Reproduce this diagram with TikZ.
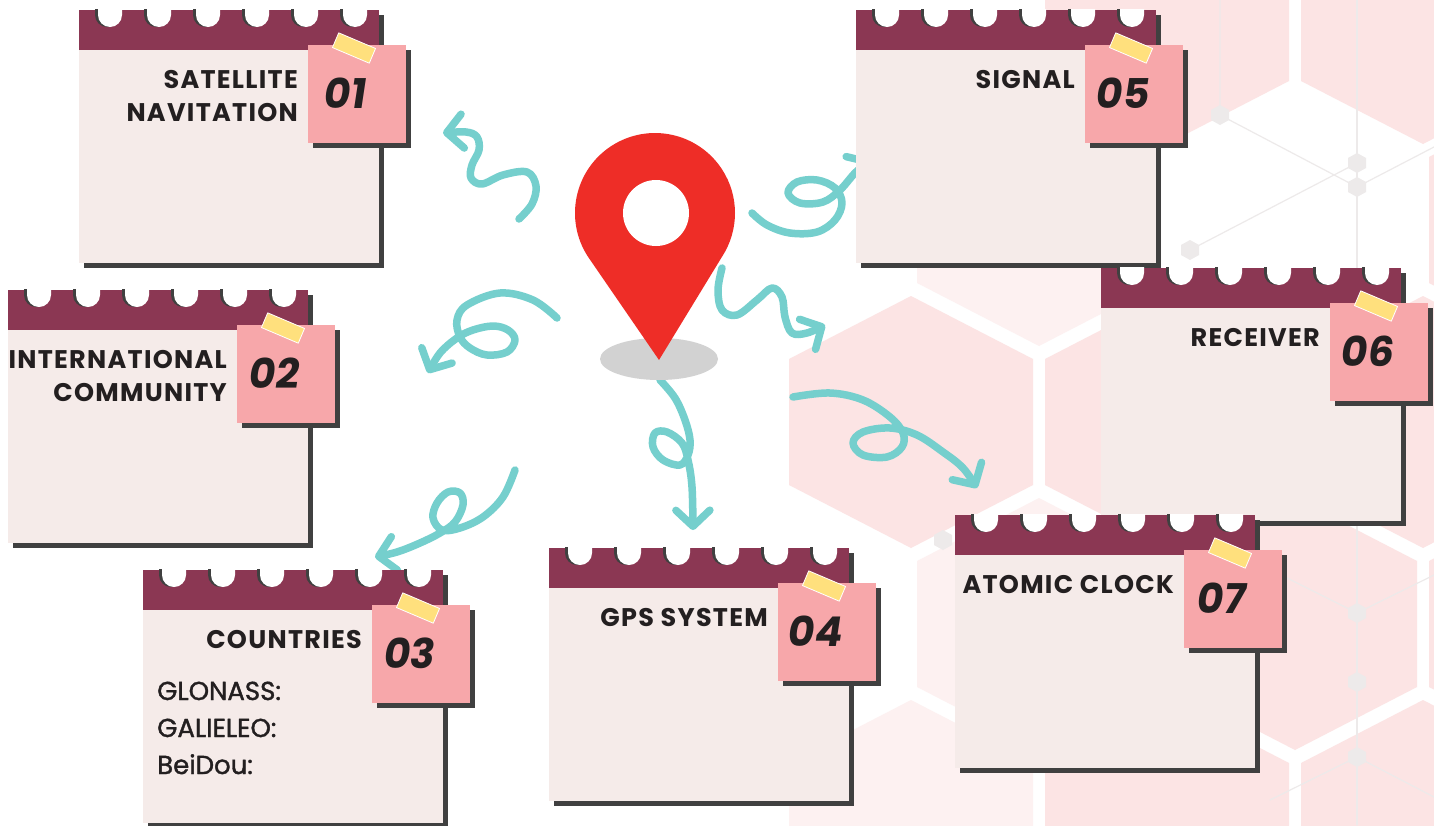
\documentclass[tikz,border=0pt]{standalone}
\usepackage{fontspec}
\usetikzlibrary{arrows.meta}
\newfontfamily\titlefont[LetterSpace=5]{Poppins}
\newfontfamily\numfont[FakeSlant=0.15]{Poppins}
\newfontfamily\listfont[FakeBold=1.4]{Poppins}

\definecolor{binder}{HTML}{8B3753}
\definecolor{paper}{HTML}{F5EBE9}
\definecolor{cardshade}{HTML}{404040}
\definecolor{sticky}{HTML}{F7A7AA}
\definecolor{tapey}{HTML}{FFE07D}
\definecolor{squigteal}{HTML}{75CFCD}
\definecolor{pinred}{HTML}{EE2D27}
\definecolor{pingrey}{HTML}{D2D2D2}
\definecolor{hexpink}{HTML}{FCE4E4}
\definecolor{hexpale}{HTML}{FDF1F1}
\definecolor{netgrey}{HTML}{EDEAEA}
\definecolor{inkdark}{HTML}{231F20}

\tikzset{
  squig/.style={draw=squigteal, line width=7.5pt, line cap=round, line join=round,
    -{Straight Barb[length=16pt,width=34pt,round]}},
  tape/.style={fill=tapey, draw=white, line width=0.8pt, minimum width=40pt, minimum height=16pt, inner sep=0pt},
  numtext/.style={font=\numfont\bfseries\fontsize{41}{41}\selectfont, text=inkdark, inner sep=0pt},
  titletext/.style={font=\titlefont\bfseries\fontsize{25.5}{33}\selectfont, text=inkdark, align=right, inner sep=0pt},
  listtext/.style={font=\listfont\fontsize{26}{26}\selectfont, text=inkdark, inner sep=0pt},
  netline/.style={draw=netgrey, line width=1.2pt},
}

% one note card: #1 top left corner, #2 name, #3 number, #4 title
\newcommand{\notecard}[4]{%
  \begin{scope}[shift={#1}]
    \fill[cardshade] (5,5) rectangle (305,258);
    \fill[paper] (0,0) rectangle (300,253);
    \fill[binder] (0,0) rectangle (300,40);
    % binder holes
    \foreach \hx in {28,77,126,175,224,273}{
      \fill[cardshade] (\hx-12,-1) -- (\hx-12,5) arc[start angle=180,end angle=0,radius=12] -- (\hx+12,-1) -- cycle;
      \fill[white] (\hx-9,-1) -- (\hx-9,5) arc[start angle=180,end angle=0,radius=12] -- (\hx+15,-1) -- cycle;
    }
    % sticky note with tape
    \fill[cardshade] (234,40) rectangle (332,138);
    \fill[sticky] (229,35) rectangle (327,133);
    \node[tape, rotate=-23] (#2tape) at (275,38) {};
    \node[numtext] (#2num) at (265,83) {#3};
    \node[titletext, anchor=north east] (#2title) at (219,60) {#4};
  \end{scope}}

\begin{document}
\begin{tikzpicture}[x=1pt, y=-1pt, line join=round, line cap=round]
\useasboundingbox (0,0) rectangle (1434,825);
\fill[white] (0,0) rectangle (1434,825);

% honeycomb
\foreach \cx/\cy/\cc in {911/422/hexpink, 1039/220/hexpale, 1167/422/hexpink, 1167/18/hexpink,
  1423/18/hexpink, 1551/220/hexpink, 1423/422/hexpink, 1039/624/hexpale, 1295/624/hexpink,
  1551/624/hexpink, 1167/826/hexpink, 1423/826/hexpink, 911/826/hexpale}
  \fill[\cc] (\cx,\cy-126) -- (\cx+122,\cy-63) -- (\cx+122,\cy+63) -- (\cx,\cy+126)
    -- (\cx-122,\cy+63) -- (\cx-122,\cy-63) -- cycle;

% network lines and dots
\draw[netline] (1357,0) -- (1357,825);
\draw[netline] (1220,0) -- (1220,115) -- (1357,187) -- (1434,147);
\draw[netline] (1190,250) -- (1357,163);
\draw[netline] (1285,577) -- (1357,613) -- (1434,575);
\draw[netline] (1270,800) -- (1357,757) -- (1434,797);
\foreach \dx/\dy in {1220/115, 1357/163, 1357/187, 1190/250, 943/540, 1357/613, 1357/682, 1357/757}
  \fill[netgrey] (\dx,\dy-10) -- (\dx+9,\dy-5) -- (\dx+9,\dy+5) -- (\dx,\dy+10)
    -- (\dx-9,\dy+5) -- (\dx-9,\dy-5) -- cycle;

% squiggly arrows
\coordinate (a1s) at (519,219); \coordinate (a1e) at (443,133);
\coordinate (a2s) at (557,318); \coordinate (a2e) at (428,373);
\coordinate (a3s) at (515,470); \coordinate (a3e) at (375,557);
\coordinate (a4s) at (660,380); \coordinate (a4e) at (693,530);
\coordinate (a5s) at (752,213); \coordinate (a5e) at (872,160);
\coordinate (a6s) at (722,268); \coordinate (a6e) at (825,325);
\coordinate (a7s) at (793,397); \coordinate (a7e) at (977,488);
\draw[squig] plot[smooth, tension=0.6] coordinates {(a1s) (532,204) (536,186) (527,172) (503,175) (482,184) (471,178) (472,165) (479,150) (477,137) (466,132) (a1e)};
\draw[squig] plot[smooth, tension=0.6] coordinates {(a2s) (533,300) (500,293) (467,305) (457,320) (460,337) (470,348) (487,355) (507,352) (515,340) (508,330) (493,326) (473,330) (457,338) (440,353) (a2e)};
\draw[squig] plot[smooth, tension=0.6] coordinates {(a3s) (503,497) (483,517) (460,528) (442,530) (433,518) (437,503) (448,492) (460,493) (463,505) (455,522) (440,533) (420,543) (397,552) (a3e)};
\draw[squig] plot[smooth, tension=0.6] coordinates {(a4s) (675,398) (685,420) (690,440) (688,455) (680,465) (663,460) (653,447) (655,433) (667,432) (682,443) (688,460) (692,487) (a4e)};
\draw[squig] plot[smooth, tension=0.6] coordinates {(a5s) (767,225) (790,233) (817,232) (835,220) (842,203) (835,188) (817,180) (797,182) (788,193) (800,203) (823,202) (840,190) (856,172) (a5e)};
\draw[squig] plot[smooth, tension=0.6] coordinates {(a6s) (718,290) (722,310) (737,315) (757,300) (772,288) (782,297) (785,317) (792,333) (807,333) (a6e)};
\draw[squig] plot[smooth, tension=0.6] coordinates {(a7s) (830,393) (863,400) (890,417) (903,433) (902,447) (887,457) (863,455) (853,443) (863,432) (890,428) (917,435) (943,452) (963,468) (a7e)};

% location pin
\fill[pingrey] (659,359) ellipse [x radius=59, y radius=21];
\fill[pinred] (659,360) -- (587.9,256.6) arc[start angle=147, end angle=393, radius=80] -- cycle;
\fill[white] (656,213) circle (33);

% note cards
\notecard{(79,10)}{c1}{01}{SATELLITE\\NAVITATION}
\notecard{(8,290)}{c2}{02}{INTERNATIONAL\\COMMUNITY}
\notecard{(143,570)}{c3}{03}{COUNTRIES}
\notecard{(549,548)}{c4}{04}{GPS SYSTEM}
\notecard{(856,10)}{c5}{05}{SIGNAL}
\notecard{(1101,268)}{c6}{06}{RECEIVER}
\notecard{(955,515)}{c7}{07}{ATOMIC CLOCK}

\node[listtext, anchor=base west] (glonass) at (157,700) {GLONASS:};
\node[listtext, anchor=base west] (galileo) at (157,737) {GALIELEO:};
\node[listtext, anchor=base west] (beidou) at (157,774) {BeiDou:};
\end{tikzpicture}
\end{document}
